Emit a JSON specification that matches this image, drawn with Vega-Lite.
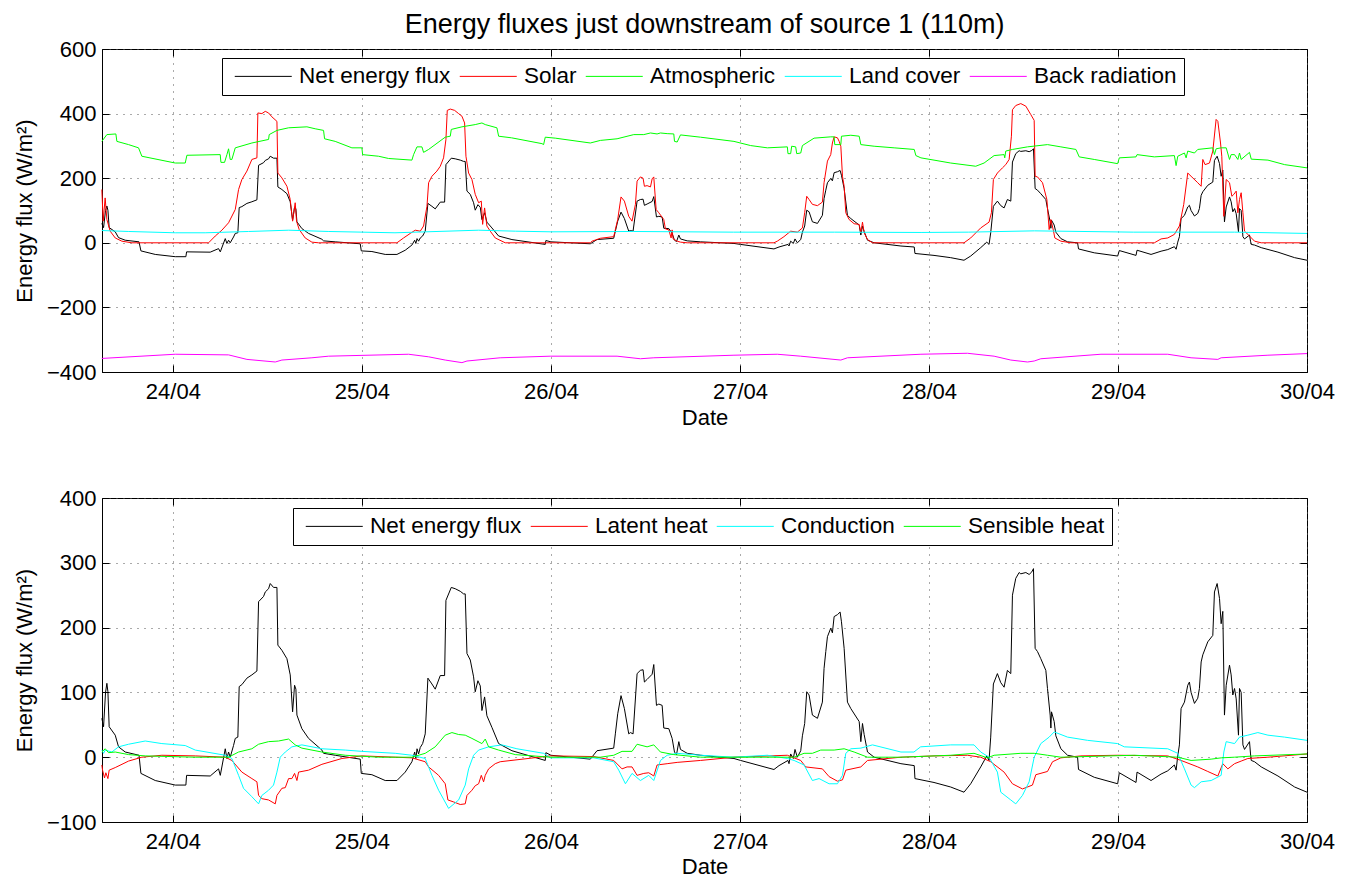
{
  "$schema": "https://vega.github.io/schema/vega-lite/v6.json",
  "padding": {"top": 10, "left": 12, "right": 5, "bottom": 0},
  "config": {
    "font": "Liberation Sans",
    "view": {"stroke": "black", "strokeWidth": 1},
    "line": {"strokeWidth": 1},
    "axis": {
      "labelFont": "Liberation Sans", "labelFontSize": 22, "labelColor": "black",
      "titleFont": "Liberation Sans", "titleFontSize": 22, "titleFontWeight": "normal", "titleColor": "black",
      "domainColor": "black", "tickColor": "black", "tickSize": -7,
      "gridColor": "#555", "gridDash": [1, 6], "gridOpacity": 1, "labelFlush": false
    },
    "legend": {
      "orient": "none", "direction": "horizontal", "title": null,
      "strokeColor": "black", "fillColor": "white", "padding": 7,
      "labelFont": "Liberation Sans", "labelFontSize": 22.5, "labelColor": "black", "labelLimit": 400,
      "symbolType": "M-2.85,0H2.85", "symbolSize": 400, "symbolStrokeWidth": 1,
      "symbolOffset": 23, "labelOffset": 24.5, "columnPadding": 3
    }
  },
  "datasets": {
    "net": [
      {"h":-9.02,"v":60},{"h":-8.8,"v":47},{"h":-8.55,"v":100},{"h":-8.38,"v":114},{"h":-8.25,"v":101},{"h":-8.09,"v":47},
      {"h":-7.32,"v":34},{"h":-6.9,"v":16},{"h":-6.05,"v":8},{"h":-4.3,"v":3},{"h":-4.06,"v":-25},{"h":-2.24,"v":-36},
      {"h":0.3,"v":-43},{"h":1.65,"v":-43},{"h":1.74,"v":-28},{"h":4.74,"v":-29},{"h":5.8,"v":-18},{"h":6.02,"v":-28},
      {"h":6.65,"v":13},{"h":6.86,"v":-2},{"h":7.07,"v":8},{"h":7.28,"v":0},{"h":7.7,"v":18},{"h":7.92,"v":29},{"h":8.25,"v":31},
      {"h":8.42,"v":109},{"h":8.76,"v":112},{"h":9.4,"v":122},{"h":10.03,"v":127},{"h":10.67,"v":133},{"h":10.88,"v":240},
      {"h":11.51,"v":248},{"h":11.73,"v":255},{"h":12.15,"v":260},{"h":12.36,"v":268},{"h":12.78,"v":262},{"h":13.21,"v":262},
      {"h":13.33,"v":173},{"h":13.84,"v":165},{"h":14.48,"v":152},{"h":14.9,"v":127},{"h":15.2,"v":70},{"h":15.45,"v":111},
      {"h":15.62,"v":105},{"h":15.75,"v":65},{"h":16.38,"v":44},{"h":17.23,"v":29},{"h":18.92,"v":11},{"h":19.13,"v":6},
      {"h":20.61,"v":3},{"h":23.79,"v":-3},{"h":23.92,"v":-25},{"h":25.27,"v":-27},{"h":26.96,"v":-36},{"h":28.45,"v":-36},
      {"h":29.5,"v":-23},{"h":30.35,"v":-7},{"h":30.7,"v":8},{"h":30.85,"v":-2},{"h":31.0,"v":13},{"h":31.2,"v":5},{"h":31.41,"v":15},
      {"h":31.71,"v":21},{"h":32.04,"v":36},{"h":32.38,"v":122},{"h":32.89,"v":113},{"h":33.31,"v":105},{"h":33.95,"v":126},
      {"h":34.5,"v":126},{"h":34.67,"v":242},{"h":35.35,"v":262},{"h":35.85,"v":260},{"h":36.49,"v":256},{"h":36.91,"v":252},
      {"h":37.12,"v":252},{"h":37.34,"v":160},{"h":37.76,"v":150},{"h":38.18,"v":124},{"h":38.39,"v":101},{"h":38.73,"v":118},
      {"h":39.03,"v":110},{"h":39.24,"v":72},{"h":39.58,"v":93},{"h":39.87,"v":64},{"h":40.51,"v":46},{"h":41.36,"v":21},
      {"h":43.05,"v":10},{"h":47.28,"v":-5},{"h":47.36,"v":7},{"h":48.0,"v":3},{"h":53.0,"v":-3},{"h":53.85,"v":10},
      {"h":55.97,"v":14},{"h":56.18,"v":36},{"h":56.48,"v":67},{"h":56.9,"v":95},{"h":57.33,"v":75},{"h":57.88,"v":36},
      {"h":58.09,"v":38},{"h":58.43,"v":36},{"h":58.94,"v":129},{"h":59.36,"v":134},{"h":59.7,"v":135},{"h":59.87,"v":116},
      {"h":60.21,"v":120},{"h":60.85,"v":128},{"h":61.06,"v":143},{"h":61.4,"v":80},{"h":61.7,"v":82},{"h":62.12,"v":80},
      {"h":62.33,"v":45},{"h":62.97,"v":44},{"h":63.39,"v":29},{"h":63.69,"v":8},{"h":63.95,"v":4},{"h":64.24,"v":24},
      {"h":64.45,"v":12},{"h":65.3,"v":6},{"h":67.0,"v":3},{"h":71.24,"v":-2},{"h":72.08,"v":-5},{"h":76.32,"v":-19},
      {"h":76.96,"v":-13},{"h":78.1,"v":-5},{"h":78.23,"v":-10},{"h":78.44,"v":5},{"h":78.78,"v":-2},{"h":78.99,"v":12},
      {"h":79.29,"v":0},{"h":79.72,"v":10},{"h":79.93,"v":33},{"h":80.22,"v":52},{"h":80.48,"v":101},{"h":80.78,"v":96},
      {"h":81.2,"v":65},{"h":81.84,"v":60},{"h":82.47,"v":85},{"h":82.68,"v":137},{"h":82.9,"v":163},{"h":83.11,"v":186},
      {"h":83.53,"v":199},{"h":83.74,"v":192},{"h":83.96,"v":217},{"h":84.38,"v":220},{"h":84.72,"v":224},{"h":84.89,"v":209},
      {"h":85.23,"v":168},{"h":85.65,"v":85},{"h":86.08,"v":75},{"h":87.14,"v":55},{"h":87.35,"v":24},{"h":87.56,"v":52},
      {"h":87.77,"v":35},{"h":88.2,"v":8},{"h":89.04,"v":0},{"h":92.44,"v":-10},{"h":94.13,"v":-13},{"h":94.22,"v":-33},
      {"h":96.64,"v":-39},{"h":98.76,"v":-46},{"h":100.45,"v":-54},{"h":101.3,"v":-41},{"h":102.57,"v":-15},{"h":103.34,"v":2},
      {"h":103.63,"v":-5},{"h":103.84,"v":31},{"h":104.18,"v":113},{"h":104.69,"v":129},{"h":105.12,"v":115},{"h":105.54,"v":108},
      {"h":105.96,"v":134},{"h":106.39,"v":129},{"h":106.6,"v":250},{"h":107.02,"v":276},{"h":107.45,"v":285},{"h":107.66,"v":283},
      {"h":108.3,"v":285},{"h":108.72,"v":282},{"h":109.06,"v":286},{"h":109.27,"v":291},{"h":109.48,"v":168},{"h":109.78,"v":163},
      {"h":110.2,"v":152},{"h":110.84,"v":134},{"h":111.05,"v":106},{"h":111.39,"v":65},{"h":111.48,"v":45},{"h":111.56,"v":70},
      {"h":111.9,"v":55},{"h":112.11,"v":33},{"h":112.75,"v":13},{"h":113.6,"v":3},{"h":114.87,"v":0},{"h":114.99,"v":-19},
      {"h":116.99,"v":-31},{"h":119.96,"v":-41},{"h":120.17,"v":-24},{"h":122.29,"v":-39},{"h":122.42,"v":-23},{"h":124.2,"v":-36},
      {"h":125.47,"v":-26},{"h":126.32,"v":-21},{"h":127.16,"v":-12},{"h":127.38,"v":-20},{"h":127.59,"v":2},{"h":127.8,"v":19},
      {"h":128.01,"v":75},{"h":128.44,"v":85},{"h":128.86,"v":111},{"h":129.07,"v":116},{"h":129.28,"v":100},{"h":129.71,"v":83},
      {"h":130.13,"v":91},{"h":130.34,"v":106},{"h":130.56,"v":147},{"h":130.77,"v":158},{"h":131.4,"v":178},{"h":132.04,"v":188},
      {"h":132.25,"v":255},{"h":132.59,"v":268},{"h":132.89,"v":245},{"h":133.1,"v":206},{"h":133.31,"v":225},{"h":133.52,"v":65},
      {"h":133.74,"v":111},{"h":134.16,"v":142},{"h":134.37,"v":127},{"h":134.58,"v":96},{"h":134.8,"v":106},{"h":135.01,"v":90},
      {"h":135.3,"v":34},{"h":135.43,"v":106},{"h":135.64,"v":100},{"h":135.86,"v":19},{"h":136.07,"v":12},{"h":136.7,"v":24},
      {"h":136.83,"v":5},{"h":136.92,"v":-5},{"h":137.34,"v":-7},{"h":138.19,"v":-15},{"h":140.31,"v":-29},{"h":142.43,"v":-46},
      {"h":144.0,"v":-54}
    ],
    "solar": [
      {"h":-9.02,"v":165},{"h":-8.85,"v":67},{"h":-8.6,"v":139},{"h":-8.38,"v":72},{"h":-7.96,"v":36},{"h":-7.32,"v":15},
      {"h":-6.48,"v":5},{"h":-5.2,"v":0},{"h":4.53,"v":0},{"h":5.38,"v":21},{"h":6.22,"v":39},{"h":7.07,"v":62},{"h":7.92,"v":103},
      {"h":8.34,"v":165},{"h":8.76,"v":196},{"h":9.4,"v":222},{"h":10.03,"v":258},{"h":10.67,"v":263},{"h":10.79,"v":402},
      {"h":11.3,"v":400},{"h":11.73,"v":407},{"h":12.15,"v":402},{"h":12.57,"v":390},{"h":13.21,"v":376},{"h":13.33,"v":216},
      {"h":13.84,"v":201},{"h":14.48,"v":175},{"h":14.9,"v":134},{"h":15.2,"v":67},{"h":15.53,"v":124},{"h":15.7,"v":67},
      {"h":16.04,"v":41},{"h":16.8,"v":15},{"h":17.65,"v":2},{"h":18.5,"v":0},{"h":28.45,"v":0},{"h":29.29,"v":15},
      {"h":30.14,"v":29},{"h":30.77,"v":39},{"h":31.41,"v":36},{"h":31.83,"v":52},{"h":32.26,"v":113},{"h":32.47,"v":186},
      {"h":32.89,"v":206},{"h":33.52,"v":222},{"h":33.95,"v":237},{"h":34.37,"v":263},{"h":34.67,"v":320},{"h":34.84,"v":410},
      {"h":35.22,"v":414},{"h":35.77,"v":410},{"h":36.28,"v":400},{"h":36.7,"v":392},{"h":37.04,"v":371},{"h":37.21,"v":268},
      {"h":37.55,"v":216},{"h":37.97,"v":196},{"h":38.39,"v":150},{"h":38.82,"v":124},{"h":39.16,"v":129},{"h":39.33,"v":57},
      {"h":39.58,"v":108},{"h":39.87,"v":52},{"h":40.3,"v":36},{"h":40.93,"v":15},{"h":42.2,"v":0},{"h":53.0,"v":0},
      {"h":53.22,"v":5},{"h":54.28,"v":14},{"h":55.97,"v":19},{"h":56.18,"v":41},{"h":56.48,"v":72},{"h":56.9,"v":142},
      {"h":57.33,"v":129},{"h":57.88,"v":82},{"h":58.3,"v":67},{"h":58.73,"v":119},{"h":58.94,"v":191},{"h":59.36,"v":204},
      {"h":59.7,"v":200},{"h":59.87,"v":175},{"h":60.21,"v":177},{"h":60.64,"v":173},{"h":60.85,"v":198},{"h":61.06,"v":204},
      {"h":61.36,"v":103},{"h":61.7,"v":93},{"h":62.33,"v":72},{"h":62.54,"v":43},{"h":62.97,"v":40},{"h":63.26,"v":15},
      {"h":63.39,"v":40},{"h":63.52,"v":12},{"h":64.03,"v":5},{"h":64.45,"v":2},{"h":65.3,"v":0},{"h":76.32,"v":0},
      {"h":76.74,"v":5},{"h":77.59,"v":19},{"h":78.44,"v":36},{"h":79.29,"v":33},{"h":79.93,"v":46},{"h":80.22,"v":93},
      {"h":80.48,"v":144},{"h":80.78,"v":134},{"h":81.2,"v":119},{"h":81.84,"v":115},{"h":82.47,"v":126},{"h":82.68,"v":186},
      {"h":83.11,"v":253},{"h":83.53,"v":273},{"h":83.74,"v":309},{"h":83.96,"v":328},{"h":84.38,"v":325},{"h":84.6,"v":314},
      {"h":84.81,"v":299},{"h":85.02,"v":206},{"h":85.23,"v":175},{"h":85.44,"v":93},{"h":85.86,"v":72},{"h":86.5,"v":59},
      {"h":87.14,"v":57},{"h":87.35,"v":31},{"h":87.56,"v":64},{"h":87.77,"v":31},{"h":88.2,"v":10},{"h":88.84,"v":0},
      {"h":100.45,"v":0},{"h":101.3,"v":15},{"h":102.57,"v":46},{"h":103.63,"v":64},{"h":103.93,"v":93},{"h":104.18,"v":196},
      {"h":104.69,"v":216},{"h":105.33,"v":232},{"h":105.75,"v":242},{"h":106.18,"v":258},{"h":106.47,"v":330},{"h":106.6,"v":412},
      {"h":107.02,"v":425},{"h":107.66,"v":431},{"h":108.3,"v":423},{"h":108.93,"v":397},{"h":109.36,"v":379},{"h":109.48,"v":206},
      {"h":109.78,"v":204},{"h":110.42,"v":186},{"h":110.97,"v":134},{"h":111.26,"v":41},{"h":111.48,"v":72},{"h":111.82,"v":36},
      {"h":111.98,"v":15},{"h":112.75,"v":5},{"h":114.02,"v":0},{"h":124.62,"v":0},{"h":125.47,"v":12},{"h":126.32,"v":15},
      {"h":127.16,"v":26},{"h":127.8,"v":52},{"h":128.35,"v":119},{"h":128.86,"v":216},{"h":129.28,"v":206},{"h":130.13,"v":186},
      {"h":130.56,"v":175},{"h":130.77,"v":258},{"h":131.06,"v":242},{"h":131.62,"v":247},{"h":132.04,"v":284},{"h":132.46,"v":382},
      {"h":132.68,"v":376},{"h":133.02,"v":309},{"h":133.18,"v":268},{"h":133.44,"v":82},{"h":133.74,"v":196},{"h":134.16,"v":186},
      {"h":134.46,"v":144},{"h":134.71,"v":150},{"h":135.01,"v":160},{"h":135.22,"v":93},{"h":135.43,"v":134},{"h":135.64,"v":155},
      {"h":135.86,"v":93},{"h":136.07,"v":36},{"h":136.7,"v":21},{"h":137.34,"v":5},{"h":138.19,"v":0},{"h":144.0,"v":0}
    ],
    "atm": [
      {"h":-9.02,"v":314},{"h":-8.38,"v":335},{"h":-7.24,"v":337},{"h":-7.11,"v":314},{"h":-5.63,"v":304},{"h":-4.36,"v":294},
      {"h":-3.94,"v":268},{"h":0.3,"v":247},{"h":1.57,"v":247},{"h":1.78,"v":271},{"h":6.01,"v":273},{"h":6.1,"v":249},
      {"h":6.56,"v":249},{"h":6.86,"v":273},{"h":7.07,"v":291},{"h":7.28,"v":258},{"h":7.49,"v":258},{"h":7.92,"v":294},
      {"h":10.03,"v":309},{"h":12.15,"v":320},{"h":12.23,"v":335},{"h":13.21,"v":348},{"h":14.69,"v":356},{"h":17.02,"v":359},
      {"h":18.07,"v":353},{"h":19.13,"v":348},{"h":19.26,"v":322},{"h":20.61,"v":314},{"h":22.73,"v":294},{"h":24.0,"v":294},
      {"h":24.09,"v":273},{"h":26.12,"v":268},{"h":27.39,"v":261},{"h":30.35,"v":256},{"h":30.56,"v":273},{"h":30.99,"v":297},
      {"h":31.62,"v":297},{"h":31.83,"v":280},{"h":32.47,"v":289},{"h":34.58,"v":327},{"h":35.22,"v":330},{"h":35.35,"v":351},
      {"h":36.7,"v":359},{"h":38.39,"v":366},{"h":39.24,"v":371},{"h":39.66,"v":366},{"h":41.14,"v":356},{"h":41.36,"v":330},
      {"h":43.0,"v":325},{"h":46.86,"v":307},{"h":47.07,"v":304},{"h":47.28,"v":327},{"h":48.55,"v":324},{"h":53.0,"v":309},
      {"h":54.28,"v":317},{"h":56.4,"v":322},{"h":58.52,"v":335},{"h":59.79,"v":335},{"h":60.64,"v":340},{"h":61.48,"v":337},
      {"h":61.91,"v":340},{"h":62.76,"v":338},{"h":63.6,"v":337},{"h":63.69,"v":314},{"h":64.03,"v":312},{"h":64.45,"v":334},
      {"h":66.99,"v":327},{"h":71.24,"v":314},{"h":73.36,"v":301},{"h":75.48,"v":294},{"h":78.02,"v":297},{"h":78.1,"v":276},
      {"h":78.44,"v":276},{"h":78.57,"v":299},{"h":79.08,"v":297},{"h":79.21,"v":276},{"h":79.72,"v":278},{"h":79.93,"v":301},
      {"h":81.41,"v":324},{"h":83.53,"v":328},{"h":83.96,"v":328},{"h":84.04,"v":304},{"h":84.81,"v":304},{"h":84.89,"v":330},
      {"h":86.08,"v":333},{"h":87.14,"v":330},{"h":87.35,"v":304},{"h":89.04,"v":299},{"h":91.58,"v":294},{"h":94.13,"v":289},
      {"h":94.34,"v":270},{"h":94.98,"v":263},{"h":96.64,"v":256},{"h":98.76,"v":247},{"h":101.94,"v":237},{"h":103.0,"v":247},
      {"h":104.27,"v":270},{"h":105.54,"v":273},{"h":105.62,"v":263},{"h":105.75,"v":284},{"h":106.6,"v":289},{"h":108.51,"v":297},
      {"h":111.05,"v":304},{"h":112.75,"v":297},{"h":114.66,"v":289},{"h":115.08,"v":266},{"h":116.99,"v":258},{"h":119.96,"v":245},
      {"h":120.17,"v":263},{"h":122.29,"v":266},{"h":122.42,"v":273},{"h":124.62,"v":266},{"h":127.16,"v":270},{"h":127.38,"v":239},
      {"h":127.59,"v":268},{"h":128.44,"v":278},{"h":128.65,"v":263},{"h":128.86,"v":284},{"h":129.71,"v":278},{"h":130.13,"v":289},
      {"h":132.04,"v":294},{"h":132.25,"v":273},{"h":132.46,"v":291},{"h":133.1,"v":294},{"h":133.74,"v":294},{"h":134.16,"v":258},
      {"h":134.37,"v":273},{"h":134.8,"v":273},{"h":135.22,"v":258},{"h":135.43,"v":278},{"h":135.64,"v":258},{"h":136.7,"v":280},
      {"h":136.92,"v":259},{"h":139.04,"v":256},{"h":141.16,"v":242},{"h":144.0,"v":232}
    ],
    "land": [
      {"h":-9.02,"v":38},{"h":-5.6,"v":35},{"h":0.3,"v":31},{"h":4.1,"v":31},{"h":9.6,"v":35},{"h":14.7,"v":39},{"h":19.8,"v":35},
      {"h":28.2,"v":31},{"h":38.8,"v":39},{"h":43.5,"v":36},{"h":48.0,"v":34},{"h":58.5,"v":35},{"h":71.2,"v":33},{"h":84.0,"v":33},
      {"h":95.0,"v":32},{"h":101.0,"v":33},{"h":109.4,"v":37},{"h":122.0,"v":33},{"h":134.8,"v":33},{"h":144.0,"v":29}
    ],
    "back": [
      {"h":-9.02,"v":-358},{"h":0.3,"v":-345},{"h":7.07,"v":-347},{"h":9.4,"v":-361},{"h":13.0,"v":-369},{"h":13.84,"v":-363},
      {"h":17.65,"v":-356},{"h":19.77,"v":-351},{"h":29.93,"v":-345},{"h":32.47,"v":-353},{"h":34.58,"v":-363},{"h":36.7,"v":-371},
      {"h":37.34,"v":-366},{"h":41.56,"v":-356},{"h":47.92,"v":-351},{"h":56.4,"v":-351},{"h":59.36,"v":-359},{"h":61.06,"v":-356},
      {"h":71.24,"v":-348},{"h":76.74,"v":-345},{"h":79.72,"v":-351},{"h":84.81,"v":-363},{"h":85.65,"v":-356},{"h":94.98,"v":-345},
      {"h":100.88,"v":-342},{"h":104.27,"v":-351},{"h":106.39,"v":-363},{"h":108.51,"v":-369},{"h":109.36,"v":-366},{"h":110.2,"v":-359},
      {"h":117.84,"v":-345},{"h":126.32,"v":-345},{"h":129.28,"v":-356},{"h":132.68,"v":-361},{"h":133.1,"v":-356},{"h":139.04,"v":-348},
      {"h":144.0,"v":-343}
    ],
    "latent": [
      {"h":-9.02,"v":-12},{"h":-8.93,"v":-20},{"h":-8.68,"v":-32},{"h":-8.51,"v":-24},{"h":-8.25,"v":-33},{"h":-8.09,"v":-20},
      {"h":-7.32,"v":-16},{"h":-5.63,"v":-6},{"h":-3.94,"v":0},{"h":-1.4,"v":3},{"h":2.84,"v":2},{"h":6.65,"v":0},{"h":7.49,"v":-5},
      {"h":8.76,"v":-23},{"h":10.03,"v":-33},{"h":10.67,"v":-38},{"h":10.88,"v":-59},{"h":11.3,"v":-64},{"h":12.15,"v":-66},
      {"h":13.0,"v":-72},{"h":13.21,"v":-59},{"h":13.84,"v":-48},{"h":14.27,"v":-47},{"h":14.69,"v":-33},{"h":15.11,"v":-33},
      {"h":15.45,"v":-25},{"h":15.75,"v":-36},{"h":15.96,"v":-23},{"h":17.23,"v":-20},{"h":18.92,"v":-11},{"h":21.46,"v":-2},
      {"h":24.0,"v":2},{"h":28.23,"v":0},{"h":30.35,"v":-1},{"h":32.04,"v":-7},{"h":32.47,"v":-15},{"h":33.74,"v":-28},
      {"h":34.58,"v":-41},{"h":34.92,"v":-66},{"h":35.64,"v":-69},{"h":36.49,"v":-73},{"h":37.12,"v":-72},{"h":37.34,"v":-59},
      {"h":37.97,"v":-51},{"h":38.39,"v":-44},{"h":38.82,"v":-41},{"h":39.16,"v":-28},{"h":39.45,"v":-38},{"h":39.66,"v":-28},
      {"h":40.09,"v":-18},{"h":40.93,"v":-10},{"h":41.56,"v":-7},{"h":45.8,"v":-1},{"h":47.92,"v":2},{"h":53.43,"v":1},
      {"h":55.97,"v":-5},{"h":57.03,"v":-18},{"h":57.67,"v":-15},{"h":58.3,"v":-15},{"h":58.94,"v":-28},{"h":59.79,"v":-25},
      {"h":60.42,"v":-24},{"h":61.06,"v":-29},{"h":61.48,"v":-12},{"h":62.76,"v":-10},{"h":64.03,"v":-8},{"h":67.0,"v":-5},
      {"h":71.24,"v":0},{"h":78.02,"v":3},{"h":79.72,"v":-5},{"h":80.35,"v":-15},{"h":82.47,"v":-18},{"h":83.32,"v":-30},
      {"h":84.38,"v":-37},{"h":85.02,"v":-35},{"h":85.44,"v":-20},{"h":87.35,"v":-15},{"h":88.2,"v":-5},{"h":92.44,"v":0},
      {"h":96.64,"v":2},{"h":100.88,"v":3},{"h":102.57,"v":0},{"h":103.84,"v":-7},{"h":105.54,"v":-23},{"h":106.6,"v":-41},
      {"h":107.87,"v":-49},{"h":109.14,"v":-43},{"h":109.57,"v":-27},{"h":111.05,"v":-22},{"h":111.69,"v":-7},{"h":112.75,"v":-1},
      {"h":115.29,"v":2},{"h":119.96,"v":3},{"h":126.32,"v":2},{"h":128.01,"v":-5},{"h":130.13,"v":-15},{"h":131.4,"v":-22},
      {"h":132.68,"v":-29},{"h":133.31,"v":-10},{"h":133.95,"v":-18},{"h":134.8,"v":-10},{"h":135.64,"v":-6},{"h":136.49,"v":-2},
      {"h":139.04,"v":0},{"h":144.0,"v":5}
    ],
    "cond": [
      {"h":-9.02,"v":11},{"h":-8.8,"v":6},{"h":-8.59,"v":11},{"h":-7.75,"v":8},{"h":-6.9,"v":16},{"h":-5.63,"v":20},
      {"h":-3.51,"v":25},{"h":-1.4,"v":21},{"h":1.57,"v":18},{"h":2.84,"v":11},{"h":6.65,"v":3},{"h":7.49,"v":-2},
      {"h":8.34,"v":-28},{"h":8.97,"v":-48},{"h":10.03,"v":-61},{"h":10.88,"v":-72},{"h":11.3,"v":-59},{"h":12.15,"v":-51},
      {"h":12.78,"v":-43},{"h":13.21,"v":-23},{"h":13.63,"v":0},{"h":14.27,"v":8},{"h":15.11,"v":16},{"h":16.38,"v":19},
      {"h":18.92,"v":13},{"h":21.88,"v":11},{"h":24.0,"v":9},{"h":28.23,"v":6},{"h":30.35,"v":3},{"h":32.04,"v":-2},
      {"h":32.89,"v":-28},{"h":33.74,"v":-51},{"h":35.01,"v":-79},{"h":36.28,"v":-66},{"h":37.12,"v":-43},{"h":37.55,"v":-18},
      {"h":38.18,"v":3},{"h":38.82,"v":11},{"h":40.09,"v":16},{"h":41.78,"v":19},{"h":43.68,"v":13},{"h":47.07,"v":6},
      {"h":47.92,"v":-1},{"h":53.43,"v":-1},{"h":55.97,"v":-7},{"h":56.61,"v":-20},{"h":57.46,"v":-41},{"h":58.3,"v":-25},
      {"h":59.36,"v":-36},{"h":60.42,"v":-28},{"h":61.06,"v":-36},{"h":61.91,"v":-5},{"h":62.76,"v":3},{"h":64.03,"v":6},
      {"h":67.0,"v":3},{"h":71.24,"v":0},{"h":75.48,"v":3},{"h":78.02,"v":-2},{"h":78.87,"v":-5},{"h":80.14,"v":-12},
      {"h":81.2,"v":-36},{"h":82.05,"v":-33},{"h":83.32,"v":-41},{"h":84.38,"v":-41},{"h":85.02,"v":-28},{"h":85.44,"v":6},
      {"h":86.08,"v":13},{"h":87.35,"v":14},{"h":88.83,"v":19},{"h":92.44,"v":8},{"h":94.09,"v":8},{"h":94.94,"v":16},
      {"h":98.76,"v":19},{"h":101.72,"v":19},{"h":102.57,"v":8},{"h":103.63,"v":0},{"h":104.69,"v":-23},{"h":105.12,"v":-54},
      {"h":106.39,"v":-66},{"h":107.02,"v":-72},{"h":107.87,"v":-59},{"h":108.72,"v":-38},{"h":109.36,"v":0},{"h":110.2,"v":21},
      {"h":111.26,"v":31},{"h":111.9,"v":39},{"h":113.6,"v":31},{"h":116.14,"v":26},{"h":119.96,"v":21},{"h":120.8,"v":16},
      {"h":126.32,"v":13},{"h":127.59,"v":6},{"h":128.44,"v":-18},{"h":129.28,"v":-43},{"h":129.71,"v":-47},{"h":130.56,"v":-38},
      {"h":131.83,"v":-36},{"h":133.1,"v":-28},{"h":133.44,"v":8},{"h":133.74,"v":24},{"h":134.8,"v":21},{"h":135.43,"v":31},
      {"h":136.49,"v":34},{"h":137.76,"v":38},{"h":139.04,"v":34},{"h":141.16,"v":31},{"h":144.0,"v":26}
    ],
    "sens": [
      {"h":-9.02,"v":8},{"h":-8.59,"v":13},{"h":-8.17,"v":7},{"h":-7.32,"v":8},{"h":-5.63,"v":4},{"h":-3.51,"v":2},
      {"h":2.84,"v":0},{"h":7.07,"v":0},{"h":8.34,"v":8},{"h":10.03,"v":13},{"h":10.88,"v":20},{"h":12.15,"v":24},
      {"h":13.42,"v":25},{"h":14.69,"v":28},{"h":15.53,"v":19},{"h":16.38,"v":14},{"h":18.92,"v":8},{"h":21.88,"v":3},
      {"h":26.12,"v":0},{"h":30.35,"v":0},{"h":32.04,"v":6},{"h":33.31,"v":16},{"h":34.58,"v":34},{"h":35.43,"v":38},
      {"h":36.28,"v":35},{"h":37.12,"v":34},{"h":37.97,"v":29},{"h":39.24,"v":21},{"h":39.66,"v":28},{"h":40.09,"v":16},
      {"h":41.36,"v":11},{"h":43.47,"v":4},{"h":47.92,"v":0},{"h":54.28,"v":0},{"h":55.97,"v":3},{"h":57.03,"v":9},
      {"h":58.3,"v":9},{"h":58.94,"v":20},{"h":60.21,"v":16},{"h":61.06,"v":19},{"h":61.91,"v":8},{"h":63.6,"v":4},
      {"h":67.0,"v":0},{"h":78.87,"v":0},{"h":80.14,"v":6},{"h":81.2,"v":6},{"h":82.26,"v":11},{"h":83.96,"v":11},
      {"h":85.23,"v":13},{"h":86.5,"v":8},{"h":88.2,"v":0},{"h":92.44,"v":0},{"h":98.76,"v":3},{"h":101.72,"v":6},
      {"h":103.42,"v":-1},{"h":104.27,"v":3},{"h":107.66,"v":6},{"h":109.36,"v":6},{"h":111.05,"v":3},{"h":112.75,"v":0},
      {"h":122.08,"v":3},{"h":127.59,"v":0},{"h":129.28,"v":-5},{"h":131.83,"v":-3},{"h":133.1,"v":-1},{"h":134.8,"v":0},
      {"h":137.34,"v":2},{"h":144.0,"v":5}
    ]
  },
  "spacing": 57,
  "vconcat": [
    {
      "title": {"text": "Energy fluxes just downstream of source 1 (110m)", "font": "Liberation Sans", "fontSize": 27, "fontWeight": "normal", "color": "black", "anchor": "middle", "frame": "group", "offset": -1},
      "width": 1205,
      "height": 323,
      "layer": [
        {
          "data": {"name": "net"},
          "mark": "line",
          "encoding": {
            "x": {"field": "h", "type": "quantitative", "scale": {"domain": [-9, 144], "nice": false, "zero": false},
                  "axis": {"orient": "bottom", "values": [0, 24, 48, 72, 96, 120, 144], "labelExpr": "(24 + datum.value / 24) + '/04'", "title": "Date", "grid": true, "labelPadding": 16, "titlePadding": 5}},
            "y": {"field": "v", "type": "quantitative", "scale": {"domain": [-400, 600], "nice": false, "zero": false},
                  "axis": {"orient": "left", "values": [-400, -200, 0, 200, 400, 600], "title": "Energy flux (W/m²)", "grid": true, "labelPadding": 13, "titlePadding": 10}},
            "color": {"datum": "Net energy flux",
                      "scale": {"domain": ["Net energy flux", "Solar", "Atmospheric", "Land cover", "Back radiation"], "range": ["black", "#ff0000", "#00ff00", "#00ffff", "#ff00ff"]},
                      "legend": {"columns": 5, "legendX": 120, "legendY": 9}}
          }
        },
        {
          "data": {"name": "solar"},
          "mark": "line",
          "encoding": {"x": {"field": "h", "type": "quantitative", "axis": null}, "y": {"field": "v", "type": "quantitative", "axis": null}, "color": {"datum": "Solar"}}
        },
        {
          "data": {"name": "atm"},
          "mark": "line",
          "encoding": {"x": {"field": "h", "type": "quantitative", "axis": null}, "y": {"field": "v", "type": "quantitative", "axis": null}, "color": {"datum": "Atmospheric"}}
        },
        {
          "data": {"name": "land"},
          "mark": "line",
          "encoding": {"x": {"field": "h", "type": "quantitative", "axis": null}, "y": {"field": "v", "type": "quantitative", "axis": null}, "color": {"datum": "Land cover"}}
        },
        {
          "data": {"name": "back"},
          "mark": "line",
          "encoding": {
            "x": {"field": "h", "type": "quantitative", "axis": {"orient": "top", "values": [0, 24, 48, 72, 96, 120, 144], "labels": false, "title": null, "grid": false, "domain": false}},
            "y": {"field": "v", "type": "quantitative", "axis": {"orient": "right", "values": [-400, -200, 0, 200, 400, 600], "labels": false, "title": null, "grid": false, "domain": false}},
            "color": {"datum": "Back radiation"}
          }
        }
      ],
      "resolve": {"axis": {"x": "independent", "y": "independent"}}
    },
    {
      "width": 1205,
      "height": 324,
      "layer": [
        {
          "data": {"name": "net"},
          "mark": "line",
          "encoding": {
            "x": {"field": "h", "type": "quantitative", "scale": {"domain": [-9, 144], "nice": false, "zero": false},
                  "axis": {"orient": "bottom", "values": [0, 24, 48, 72, 96, 120, 144], "labelExpr": "(24 + datum.value / 24) + '/04'", "title": "Date", "grid": true, "labelPadding": 16, "titlePadding": 4}},
            "y": {"field": "v", "type": "quantitative", "scale": {"domain": [-100, 400], "nice": false, "zero": false},
                  "axis": {"orient": "left", "values": [-100, 0, 100, 200, 300, 400], "title": "Energy flux (W/m²)", "grid": true, "labelPadding": 13, "titlePadding": 10}},
            "color": {"datum": "Net energy flux",
                      "scale": {"domain": ["Net energy flux", "Latent heat", "Conduction", "Sensible heat"], "range": ["black", "#ff0000", "#00ffff", "#00ff00"]},
                      "legend": {"columns": 4, "legendX": 191, "legendY": 10}}
          }
        },
        {
          "data": {"name": "latent"},
          "mark": "line",
          "encoding": {"x": {"field": "h", "type": "quantitative", "axis": null}, "y": {"field": "v", "type": "quantitative", "axis": null}, "color": {"datum": "Latent heat"}}
        },
        {
          "data": {"name": "cond"},
          "mark": "line",
          "encoding": {"x": {"field": "h", "type": "quantitative", "axis": null}, "y": {"field": "v", "type": "quantitative", "axis": null}, "color": {"datum": "Conduction"}}
        },
        {
          "data": {"name": "sens"},
          "mark": "line",
          "encoding": {
            "x": {"field": "h", "type": "quantitative", "axis": {"orient": "top", "values": [0, 24, 48, 72, 96, 120, 144], "labels": false, "title": null, "grid": false, "domain": false}},
            "y": {"field": "v", "type": "quantitative", "axis": {"orient": "right", "values": [-100, 0, 100, 200, 300, 400], "labels": false, "title": null, "grid": false, "domain": false}},
            "color": {"datum": "Sensible heat"}
          }
        }
      ],
      "resolve": {"axis": {"x": "independent", "y": "independent"}}
    }
  ],
  "resolve": {"scale": {"color": "independent"}}
}
